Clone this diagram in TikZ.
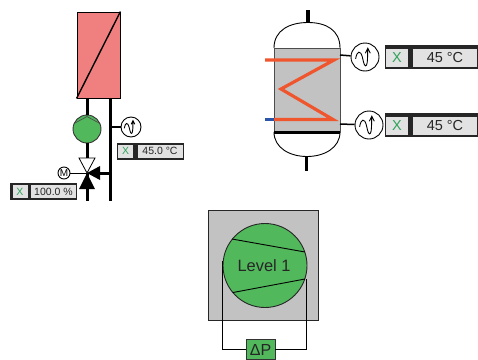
\documentclass[tikz,border=0pt]{standalone}
\usepackage{fontspec}
\setmainfont{Liberation Sans}
\definecolor{heat}{HTML}{F08080}
\definecolor{pumpg}{HTML}{52B85C}
\definecolor{shell}{HTML}{C2C2C2}
\definecolor{coil}{HTML}{F0562E}
\definecolor{coldb}{HTML}{2A55A8}
\definecolor{xg}{HTML}{2FA35A}
\definecolor{cellg}{HTML}{E2E2E2}
\tikzset{
  pipe/.style={line width=3pt,black},
  sens/.style={circle,draw=black,fill=white,line width=0.9pt,inner sep=0pt},
  lblback/.style={draw=none,fill=black!85,inner sep=0pt},
  xcell/.style={fill=cellg,inner sep=0pt,text=xg,align=center},
  valcell/.style={fill=cellg,inner sep=0pt,text=black!85,align=center},
}
\newcommand{\squig}[3]{% centre x,y, scale
  \draw[line width=0.9pt,shift={(#1,#2)},x=#3pt,y=-#3pt]
    (-0.75,0.15) .. controls (-0.65,-0.5) and (-0.35,-0.6) .. (-0.2,0.05)
    .. controls (-0.1,0.55) and (0,0.85) .. (0.12,0.65)
    .. controls (0.22,0.45) and (0.2,0) .. (0.22,-0.7)
    (0.02,-0.3) -- (0.22,-0.7) -- (0.42,-0.3);
}
\begin{document}
\begin{tikzpicture}[x=1pt,y=-1pt]
\useasboundingbox (0,0) rectangle (478,359);
% --- left group
\node[draw=black,fill=heat,line width=0.9pt,minimum width=43pt,minimum height=86pt,inner sep=0pt] (hx) at (98.5,55) {};
\coordinate (hxa) at (87,98); \coordinate (hxb) at (110,98);
\draw[line width=1.4pt] (hx.south west) -- (hx.north east);
\node[circle,draw=black!80,fill=pumpg,line width=0.9pt,minimum size=28pt,inner sep=0pt] (pump) at (87,129) {};
\draw[line width=0.7pt,black!70] (75,123) -- (87,116.5) -- (99,123);
\coordinate (vc) at (87,173);
\coordinate (ltend) at (87,201); \coordinate (rtend) at (110,201);
\draw[pipe] (hxa) -- (pump.north);
\draw[pipe] (pump.south) -- (87,158);
\draw[pipe] (vc) -- (ltend);
\draw[pipe] (hxb) -- (rtend);
\draw[pipe] (98,173) -- (110,173);
\draw[line width=0.8pt,black,fill=white] (79,158) -- (95,158) -- (87,173) -- cycle;
\fill (87,173) -- (100,166) -- (100,180) -- cycle;
\fill (87,173) -- (95,189) -- (79,189) -- cycle;
\node[sens,minimum size=12pt] (mot) at (64,173) {\fontsize{10}{10}\selectfont M};
\draw[line width=1pt] (mot) -- (vc);
\node[sens,minimum size=20pt] (s1) at (131,127) {};
\draw[line width=1.4pt] (110,127) -- (s1);
\squig{131}{127}{9}
\node[lblback,minimum width=67pt,minimum height=17pt] (lb1) at (150.5,151) {};
\node[xcell,minimum width=15pt,minimum height=13pt] (lb1x) at (125.5,151) {\fontsize{10.5}{11}\selectfont X};
\node[valcell,minimum width=45pt,minimum height=13pt] (lb1v) at (160,151) {\fontsize{10.5}{11}\selectfont 45.0 °C};
\node[lblback,minimum width=67pt,minimum height=17pt] (lb2) at (43.5,191.5) {};
\node[xcell,minimum width=15pt,minimum height=13pt] (lb2x) at (20,191.5) {\fontsize{10.5}{11}\selectfont X};
\node[valcell,minimum width=45pt,minimum height=13pt] (lb2v) at (53.5,191.5) {\fontsize{10.5}{11}\selectfont 100.0 \%};
% --- heat exchanger
\draw[line width=0.9pt] (274,48) .. controls (274,30) and (290,22.5) .. (308,22.5) .. controls (326,22.5) and (340,30) .. (340,48);
\draw[line width=0.9pt] (274,132) .. controls (274,148) and (290,156.5) .. (307,156.5) .. controls (324,156.5) and (340,148) .. (340,132);
\node[draw=black!70,fill=shell,line width=0.8pt,minimum width=66pt,minimum height=84pt,inner sep=0pt] (tank) at (307,90) {};
\draw[line width=2.2pt] (tank.south west) -- (tank.south east);
\coordinate (ttop) at (308,10); \coordinate (tbot) at (306.5,171);
\draw[line width=3.5pt] (ttop) -- (308,23);
\draw[line width=3.5pt] (306.5,157) -- (tbot);
\draw[line width=3.2pt,coil,line join=miter] (265,60) -- (334,60) -- (281,89) -- (333,119.5) -- (274,119.5);
\draw[line width=3.2pt,coldb] (265,119.5) -- (274,119.5);
\node[sens,minimum size=28pt] (s2) at (365,57) {};
\node[sens,minimum size=28pt] (s3) at (369,125) {};
\draw[line width=1.5pt] (340,55) -- (s2);
\draw[line width=1.5pt] (340,124) -- (s3);
\squig{365}{57}{12.5}
\squig{369}{125}{12.5}
\node[lblback,minimum width=93pt,minimum height=24pt] (lb3) at (431.5,57) {};
\node[xcell,minimum width=22pt,minimum height=18pt] (lb3x) at (397,57.5) {\fontsize{14.5}{15}\selectfont X};
\node[valcell,minimum width=64pt,minimum height=18pt] (lb3v) at (445,57.5) {\fontsize{14.5}{15}\selectfont 45 °C};
\node[lblback,minimum width=93pt,minimum height=24pt] (lb4) at (431.5,125) {};
\node[xcell,minimum width=22pt,minimum height=18pt] (lb4x) at (397,125.5) {\fontsize{14.5}{15}\selectfont X};
\node[valcell,minimum width=64pt,minimum height=18pt] (lb4v) at (445,125.5) {\fontsize{14.5}{15}\selectfont 45 °C};
% --- compressor
\node[draw=black!85,fill=shell,line width=0.9pt,minimum size=110pt,inner sep=0pt] (frame) at (263,265) {};
\node[circle,draw=black!85,fill=pumpg,line width=0.9pt,minimum size=84pt,inner sep=0pt] (comp) at (265,265.5) {};
\draw[line width=0.9pt] (232,239) -- (305,252);
\draw[line width=0.9pt] (233,292.5) -- (305,279);
\node[text=black!85,inner sep=0pt] (lev) at (264,265.5) {\fontsize{16.4}{17}\selectfont Level 1};
\node[draw=black!80,fill=pumpg,line width=0.9pt,minimum width=29pt,minimum height=20pt,inner sep=0pt,text=black!85] (dp) at (260.5,349.5) {\fontsize{16}{17}\selectfont ΔP};
\draw[line width=0.9pt] (222.5,261) |- (dp.west);
\draw[line width=0.9pt] (306,279) |- (dp.east);
\end{tikzpicture}
\end{document}
